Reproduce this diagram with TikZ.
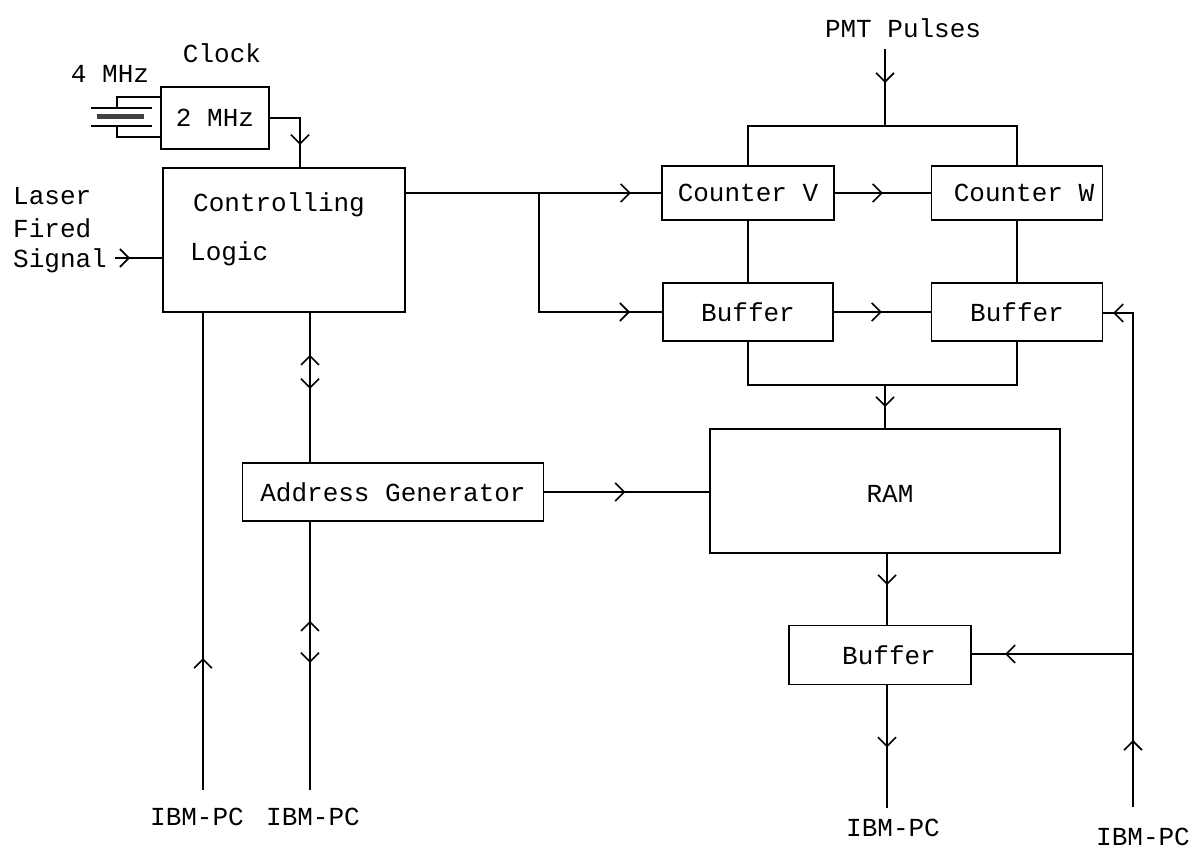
\documentclass[tikz,border=0pt]{standalone}
\usepackage{fontspec}
\setmainfont{Liberation Mono}
\usetikzlibrary{arrows.meta,decorations.markings}
\tikzset{
  blk/.style={draw, line width=1.6pt, inner sep=0pt, font=\fontsize{26}{30}\selectfont},
  txt/.style={inner sep=0pt, font=\fontsize{26}{30}\selectfont},
  ln/.style={line width=1.6pt},
  am/.style={postaction={decorate,decoration={markings,mark=at position #1 with {\arrow[line width=1.6pt]{Straight Barb[length=9pt,width=18pt]}}}}},
  amr/.style={postaction={decorate,decoration={markings,mark=at position #1 with {\arrowreversed[line width=1.6pt]{Straight Barb[length=9pt,width=18pt]}}}}}
}
\begin{document}
\begin{tikzpicture}[x=1pt,y=-1pt]
\useasboundingbox (0,0) rectangle (1193,850);

% blocks
\node[blk, minimum width=108pt, minimum height=62pt] (clk) at (215,118) {2 MHz};
\node[blk, minimum width=242pt, minimum height=144pt] (logic) at (284,240) {};
\node[blk, minimum width=172pt, minimum height=54pt] (cv) at (748,193) {Counter V};
\node[blk, minimum width=171pt, minimum height=54pt] (cw) at (1017,193) {};
\node[blk, minimum width=170pt, minimum height=58pt] (b1) at (748,312) {Buffer};
\node[blk, minimum width=171pt, minimum height=58pt] (b2) at (1017,312) {Buffer};
\node[blk, minimum width=350pt, minimum height=124pt] (ram) at (885,491) {};
\node[blk, minimum width=182pt, minimum height=59pt] (b3) at (880,655) {};
\node[blk, minimum width=301pt, minimum height=58pt] (ag) at (393,492) {Address Generator};

% texts
\node[txt] (cwt) at (1024,193) {Counter W};
\node[txt] (ramt) at (890,494) {RAM};
\node[txt] (b3t) at (889,655) {Buffer};
\node[txt, anchor=base west] (lt1) at (193,212) {Controlling};
\node[txt, anchor=base west] (lt2) at (190,260) {Logic};
\node[txt, anchor=base] (clock) at (222,63) {Clock};
\node[txt, anchor=base] (fourmhz) at (110,83) {4 MHz};
\node[txt, anchor=base west] (la1) at (13,205) {Laser};
\node[txt, anchor=base west] (la2) at (13,237) {Fired};
\node[txt, anchor=base west] (la3) at (13,268) {Signal};
\node[txt] (pmt) at (903,28) {PMT Pulses};
\node[txt] (ibm1) at (197,817) {IBM-PC};
\node[txt] (ibm2) at (313,817) {IBM-PC};
\node[txt] (ibm3) at (893,828) {IBM-PC};
\node[txt] (ibm4) at (1143,837) {IBM-PC};

% coordinates
\coordinate (clkx) at (300,0);
\coordinate (pmtin) at (885,49);
\coordinate (split) at (885,126);
\coordinate (merge) at (885,385);
\coordinate (br) at (539,193);
\coordinate (lasin) at (115,258);
\coordinate (e1) at (203,790);
\coordinate (x2) at (310,0);
\coordinate (e2) at (310,790);
\coordinate (e3) at (887,808);
\coordinate (e4) at (1133,807);
\coordinate (cornr) at (1133,313);
\coordinate (j4) at (1133,654);
\coordinate (ramout) at (887,553);

% crystal
\draw[ln] (clk.west |- 0,97) -- (117,97) -- (117,108);
\draw[ln] (clk.west |- 0,137) -- (117,137) -- (117,126);
\draw[ln] (91,108) -- (152,108);
\draw[ln] (91,126) -- (152,126);
\draw[line width=5pt, black!75] (97,117) -- (144,117);

% connectors
\draw[ln, am=57pt] (clk.east) -| (logic.north -| clkx);
\draw[ln, am=15pt] (lasin) -- (logic.west |- lasin);
\draw[ln, am=225pt] (logic.east |- cv.west) -- (cv.west);
\draw[ln, am=210pt] (br) |- (b1.west);
\draw[ln, am=48pt] (cv.east) -- (cw.west);
\draw[ln, am=48pt] (b1.east) -- (b2.west);
\draw[ln, am=34pt] (pmtin) -- (split);
\draw[ln] (cv.north) |- (split) -| (cw.north);
\draw[ln] (cv.south) -- (b1.north);
\draw[ln] (cw.south) -- (b2.north);
\draw[ln] (b1.south) |- (merge) -| (b2.south);
\draw[ln, am=22pt] (merge) -- (ram.north -| merge);
\draw[ln, am=81pt] (ag.east) -- (ram.west |- ag.east);
\draw[ln, am=32pt] (ramout) -- (b3.north -| ramout);
\draw[ln, am=62pt] (b3.south -| ramout) -- (e3);
\draw[ln, am=67pt, am=514pt] (e4) -- (cornr) -- (b2.east |- cornr);
\draw[ln, am=128pt] (j4) -- (b3.east |- j4);
\draw[ln, am=132pt] (e1) -- (logic.south -| e1);
\draw[ln, amr=42pt, am=76pt] (logic.south -| x2) -- (ag.north -| x2);
\draw[ln, amr=99pt, am=141pt] (ag.south -| x2) -- (e2);
\end{tikzpicture}
\end{document}
